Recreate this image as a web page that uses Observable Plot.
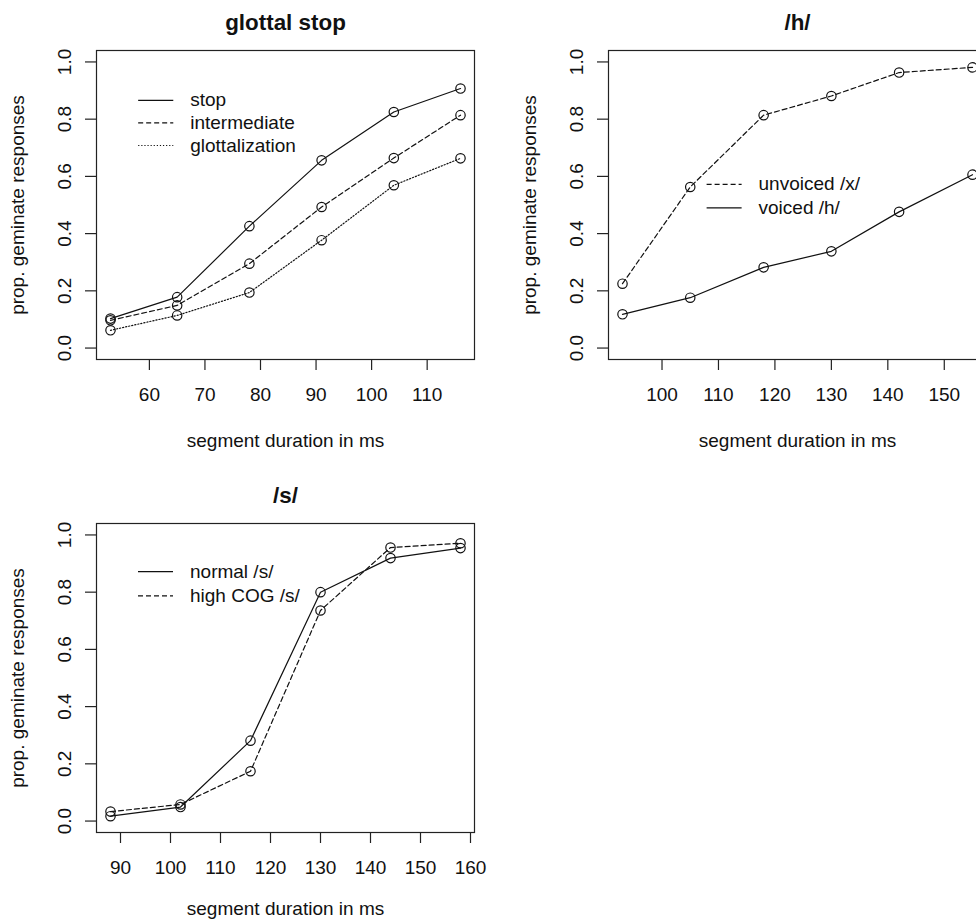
<!DOCTYPE html>
<html>
<head>
<meta charset="utf-8">
<script src="https://cdn.jsdelivr.net/npm/d3@7"></script>
<script src="https://cdn.jsdelivr.net/npm/@observablehq/plot@0.6"></script>
<style>
  html, body { margin: 0; padding: 0; background: #fff; }
  #page { position: relative; width: 976px; height: 922px; overflow: hidden; background: #fff; }
  #page > svg { position: absolute; }
</style>
</head>
<body>
<div id="page"></div>
<script>
// Proportion of geminate responses by segment duration (ms)

// glottal stop continuum
const glottalDurations = [53, 65, 78, 91, 104, 116];
const stopValues = [0.103, 0.178, 0.426, 0.656, 0.825, 0.907];
const intermediateValues = [0.097, 0.149, 0.295, 0.493, 0.664, 0.814];
const glottalizationValues = [0.062, 0.114, 0.194, 0.377, 0.569, 0.663];
const glottalTicks = [60, 70, 80, 90, 100, 110];

// /h/ continuum
const hDurations = [93, 105, 118, 130, 142, 155];
const unvoicedValues = [0.225, 0.563, 0.814, 0.881, 0.963, 0.981];
const voicedValues = [0.118, 0.176, 0.282, 0.338, 0.476, 0.606];
const hTicks = [100, 110, 120, 130, 140, 150];

// /s/ continuum
const sDurations = [88, 102, 116, 130, 144, 158];
const normalSValues = [0.017, 0.049, 0.281, 0.800, 0.919, 0.954];
const highCogValues = [0.033, 0.058, 0.174, 0.736, 0.956, 0.971];
const sTicks = [90, 100, 110, 120, 130, 140, 150, 160];

const yTicks = [0, 0.2, 0.4, 0.6, 0.8, 1.0];
const xTitle = "segment duration in ms";
const yTitle = "prop. geminate responses";

const INK = "#111";
const LW = 1.2;
const DASH = {solid: null, dashed: "5,3", dotted: "1.2,1.9"};

const rows = (xs, ys) => xs.map((x, i) => ({x, y: ys[i]}));

// R-style 4% padding around the data range
function padded(values) {
  const [lo, hi] = d3.extent(values);
  const r = hi - lo;
  return [lo - 0.04 * r, hi + 0.04 * r];
}

function panel({title, durations, ticks, series, legend, xTitleOffset = 81}) {
  const xDomain = padded(durations);
  const marks = [
    Plot.frame({stroke: "#222", strokeWidth: LW}),
    Plot.axisX({ticks, tickSize: 11, tickPadding: 17, label: null, stroke: "#222", strokeWidth: LW}),
    Plot.axisY({ticks: yTicks, tickSize: 11, tickFormat: () => "", label: null, stroke: "#222", strokeWidth: LW}),
    Plot.text(yTicks, {y: d => d, text: d => d.toFixed(1), frameAnchor: "left", dx: -32, rotate: -90, textAnchor: "middle", lineAnchor: "middle", fill: INK}),
    Plot.text([title], {frameAnchor: "top", dy: -28, lineAnchor: "middle", fontWeight: "bold", fontSize: 22.4, fill: INK}),
    Plot.text([xTitle], {frameAnchor: "bottom", dy: xTitleOffset, lineAnchor: "middle", fill: INK}),
    Plot.text([yTitle], {frameAnchor: "left", dx: -79, rotate: -90, textAnchor: "middle", lineAnchor: "middle", fill: INK})
  ];
  for (const s of series) {
    const data = rows(durations, s.values);
    marks.push(Plot.line(data, {x: "x", y: "y", stroke: INK, strokeWidth: LW, strokeDasharray: DASH[s.dash]}));
    marks.push(Plot.dot(data, {x: "x", y: "y", r: 4.7, stroke: INK, fill: "none", strokeWidth: LW}));
  }
  // legend placed in data coordinates, like legend(x, y, ...)
  legend.rows.forEach((y, i) => {
    const s = series[legend.order[i]];
    marks.push(Plot.link([{y}], {x1: () => legend.x1, x2: () => legend.x2, y1: "y", y2: "y", stroke: INK, strokeWidth: LW, strokeDasharray: DASH[s.dash]}));
    marks.push(Plot.text([{y, label: s.name}], {x: () => legend.tx, y: "y", text: "label", textAnchor: "start", fill: INK}));
  });
  return Plot.plot({
    width: 512,
    height: 473,
    marginLeft: 96,
    marginRight: 38,
    marginTop: 50,
    marginBottom: 114,
    x: {domain: xDomain},
    y: {domain: [-0.04, 1.04]},
    style: {fontFamily: "'Liberation Sans', Arial, sans-serif", fontSize: "19px", color: INK, background: "transparent", overflow: "visible"},
    marks
  });
}

const page = document.getElementById("page");

const p1 = panel({
  title: "glottal stop",
  durations: glottalDurations,
  ticks: glottalTicks,
  series: [
    {name: "stop", values: stopValues, dash: "solid"},
    {name: "intermediate", values: intermediateValues, dash: "dashed"},
    {name: "glottalization", values: glottalizationValues, dash: "dotted"}
  ],
  legend: {x1: 57.98, x2: 64.3, tx: 67.35, rows: [0.866, 0.787, 0.708], order: [0, 1, 2]}
});
p1.style.left = "0px"; p1.style.top = "0px";

const p2 = panel({
  title: "/h/",
  durations: hDurations,
  ticks: hTicks,
  series: [
    {name: "unvoiced /x/", values: unvoicedValues, dash: "dashed"},
    {name: "voiced /h/", values: voicedValues, dash: "solid"}
  ],
  legend: {x1: 107.9, x2: 114.1, tx: 117.1, rows: [0.572, 0.490], order: [0, 1]}
});
p2.style.left = "512px"; p2.style.top = "0px";

const p3 = panel({
  title: "/s/",
  durations: sDurations,
  ticks: sTicks,
  series: [
    {name: "normal /s/", values: normalSValues, dash: "solid"},
    {name: "high COG /s/", values: highCogValues, dash: "dashed"}
  ],
  legend: {x1: 93.5, x2: 100.5, tx: 103.9, rows: [0.872, 0.787], order: [0, 1]},
  xTitleOffset: 76
});
p3.style.left = "0px"; p3.style.top = "473px";

page.append(p1, p2, p3);
</script>
</body>
</html>
